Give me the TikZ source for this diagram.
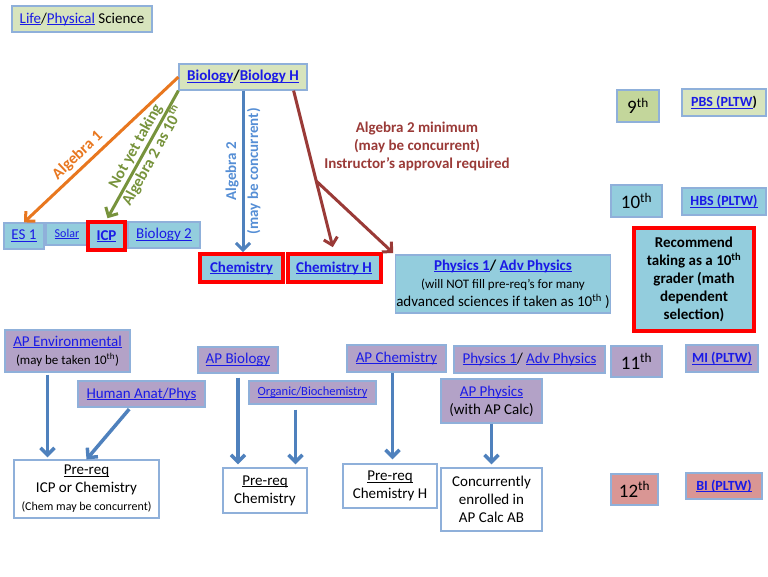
\documentclass[tikz,border=0pt]{standalone}
\usepackage{fontspec}
\setmainfont{Carlito}
\usepackage{tikz}
\usetikzlibrary{arrows.meta}

\definecolor{lgreen}{HTML}{D7E4BD}
\definecolor{dgreen}{HTML}{C3D69B}
\definecolor{lblue}{HTML}{93CDDD}
\definecolor{purp}{HTML}{B3A2C7}
\definecolor{rose}{HTML}{D99694}
\definecolor{edge}{HTML}{8FB0DA}
\definecolor{lnk}{HTML}{1A1AE6}
\definecolor{orng}{HTML}{E8771F}
\definecolor{grn}{HTML}{77933C}
\definecolor{bl}{HTML}{4F81BD}
\definecolor{bltext}{HTML}{558ED5}
\definecolor{brn}{HTML}{9A3A37}

\newcommand{\uln}[1]{\setbox0\hbox{#1}\rlap{\rule[-1.8pt]{\wd0}{0.9pt}}\box0}
\newcommand{\lk}[1]{\textcolor{lnk}{\uln{#1}}}

\begin{document}
\begin{tikzpicture}[x=1pt, y=-1pt,
  bx/.style={draw=edge, line width=1.2pt, inner sep=1pt, align=center, font=\fontsize{15}{18}\selectfont},
  bbx/.style={bx, font=\fontsize{15}{18}\selectfont\bfseries},
  redbx/.style={bbx, draw=red, line width=4pt},
  tagbx/.style={bx, font=\fontsize{14}{17}\selectfont\bfseries},
  grbx/.style={bx, font=\fontsize{19}{22}\selectfont},
  wbx/.style={bx, fill=white},
  arr/.style={line width=3pt, -{Straight Barb[length=7pt,width=14pt]}},
  barr/.style={arr, bl, line width=3.5pt},
  lbl/.style={align=center, font=\fontsize{16}{20}\selectfont\bfseries}]

  \useasboundingbox (0,0) rectangle (768,576);

  % 9th grade
  \node[bx, fill=lgreen, minimum width=140pt, minimum height=26pt] (life) at (82,19) {\lk{Life}/\lk{Physical} Science};
  \node[bbx, fill=lgreen, minimum width=128pt, minimum height=26pt] (bio) at (243,77) {\lk{Biology}/\lk{Biology H}};

  % 10th grade
  \node[bx, fill=lblue, minimum width=40pt, minimum height=26pt] (es) at (24,236) {\lk{ES 1}};
  \node[bx, fill=lblue, minimum width=42pt, minimum height=22pt, font=\fontsize{12}{14}\selectfont] (solar) at (67,234) {\lk{Solar}};
  \node[redbx, fill=lblue, minimum width=37pt, minimum height=28pt] (icp) at (106.5,236) {\lk{ICP}};
  \node[bx, fill=lblue, minimum width=72pt, minimum height=26pt] (biotwo) at (164,235) {\lk{Biology 2}};
  \node[redbx, fill=lblue, minimum width=83pt, minimum height=28pt] (chem) at (241.5,268) {\lk{Chemistry}};
  \node[redbx, fill=lblue, minimum width=93pt, minimum height=28pt] (chemh) at (334,268) {\lk{Chemistry H}};
  \node[bx, fill=lblue, minimum width=204pt, minimum height=58pt] (phys) at (503,284)
    {{\bfseries\lk{Physics 1}/ \lk{Adv Physics}}\\
     \fontsize{13}{16}\selectfont (will NOT fill pre-req's for many\\advanced sciences if taken as 10\textsuperscript{th} )};

  % grades and PLTW
  \node[grbx, fill=dgreen, minimum width=42pt, minimum height=32pt] (nine) at (638,106) {9\textsuperscript{th}};
  \node[tagbx, fill=lgreen, minimum width=84pt, minimum height=27pt] (pbs) at (724,102.5) {\lk{PBS (PLTW})};
  \node[grbx, fill=lblue, minimum width=51pt, minimum height=32pt] (ten) at (636.5,201) {10\textsuperscript{th}};
  \node[tagbx, fill=lblue, minimum width=84pt, minimum height=27pt] (hbs) at (724,201.5) {\lk{HBS (PLTW)}};
  \node[redbx, fill=lblue, minimum width=120pt, minimum height=103pt] (rec) at (694,279.5)
    {Recommend\\taking as a 10\textsuperscript{th}\\grader (math\\dependent\\selection)};

  % 11th grade
  \node[bx, fill=purp, minimum width=125pt, minimum height=42pt] (apenv) at (67.5,351)
    {\lk{AP Environmental}\\ \fontsize{13}{16}\selectfont (may be taken 10\textsuperscript{th})};
  \node[bx, fill=purp, minimum width=127pt, minimum height=26pt] (human) at (141.5,394) {\lk{Human Anat/Phys}};
  \node[bx, fill=purp, minimum width=80pt, minimum height=26pt] (apbio) at (238,360) {\lk{AP Biology}};
  \node[bx, fill=purp, minimum width=127pt, minimum height=23pt, font=\fontsize{12.5}{15}\selectfont] (organic) at (312.5,392.5) {\lk{Organic/Biochemistry}};
  \node[bx, fill=purp, minimum width=99pt, minimum height=27pt] (apchem) at (396.5,358.5) {\lk{AP Chemistry}};
  \node[bx, fill=purp, minimum width=151pt, minimum height=27pt] (physel) at (529.5,359.5) {\lk{Physics 1}/ \lk{Adv Physics}};
  \node[grbx, fill=purp, minimum width=51pt, minimum height=31pt] (eleven) at (636.5,361.5) {11\textsuperscript{th}};
  \node[tagbx, fill=purp, minimum width=72pt, minimum height=27pt] (mi) at (722,358.5) {\lk{MI (PLTW)}};
  \node[bx, fill=purp, minimum width=101pt, minimum height=44pt] (apphys) at (491.5,401) {\lk{AP Physics}\\(with AP Calc)};

  % 12th grade
  \node[wbx, minimum width=145pt, minimum height=58pt] (preicp) at (86.5,489)
    {\uln{Pre-req}\\ICP or Chemistry\\ \fontsize{12}{14}\selectfont (Chem may be concurrent)};
  \node[wbx, minimum width=84pt, minimum height=45pt] (prechem) at (265,490.5) {\uln{Pre-req}\\Chemistry};
  \node[wbx, minimum width=94pt, minimum height=44pt] (prechemh) at (390,486) {\uln{Pre-req}\\Chemistry H};
  \node[wbx, minimum width=101pt, minimum height=63pt] (calc) at (491.5,499.5) {Concurrently\\enrolled in\\AP Calc AB};
  \node[grbx, fill=rose, minimum width=47pt, minimum height=31pt] (twelve) at (634.5,489.5) {12\textsuperscript{th}};
  \node[tagbx, fill=rose, minimum width=76pt, minimum height=26pt] (bi) at (724,486) {\lk{BI (PLTW)}};

  % paths out of biology
  \draw[arr, orng] (bio.west) -- node[lbl, text=orng, sloped, above, pos=0.6] (algone) {Algebra 1} (es.north);
  \draw[arr, grn, shorten >=2pt] (bio.south west) -- node[lbl, text=grn, sloped, pos=0.47] (notyet) {Not yet taking\\Algebra 2 as 10\textsuperscript{th}} (icp.north);
  \draw[arr, bl] (bio.south) -- node[lbl, text=bltext, rotate=90, font=\fontsize{15}{22}\selectfont\bfseries] (algtwo) {Algebra 2\\(may be concurrent)} (bio.south |- chem.north);
  \draw[arr, brn, shorten >=5pt] ([xshift=-14pt]bio.south east) -- coordinate[pos=0.56] (fork) (chemh.north);
  \draw[arr, brn, shorten >=2pt] (fork) -- (phys.north west);
  \node[lbl, text=brn, font=\fontsize{15}{18}\selectfont\bfseries] (algmin) at (417,146)
    {Algebra 2 minimum\\(may be concurrent)\\Instructor's approval required};

  % prerequisites
  \draw[barr, shorten <=2pt, shorten >=2pt] ([xshift=-20pt]apenv.south) -- ([xshift=-20pt]apenv.south |- preicp.north);
  \draw[barr, shorten <=2pt] ([xshift=-11pt]human.south) -- (preicp.north);
  \draw[barr, shorten <=4pt, shorten >=3pt] (apbio.south) -- (apbio.south |- prechem.north);
  \draw[barr, shorten <=5pt, shorten >=3pt] ([xshift=-17pt]organic.south) -- ([xshift=-17pt]organic.south |- prechem.north);
  \draw[barr, shorten >=4pt] ([xshift=-4pt]apchem.south) -- ([xshift=-4pt]apchem.south |- prechemh.north);
  \draw[barr, shorten >=3pt] (apphys.south) -- (apphys.south |- calc.north);
\end{tikzpicture}
\end{document}
